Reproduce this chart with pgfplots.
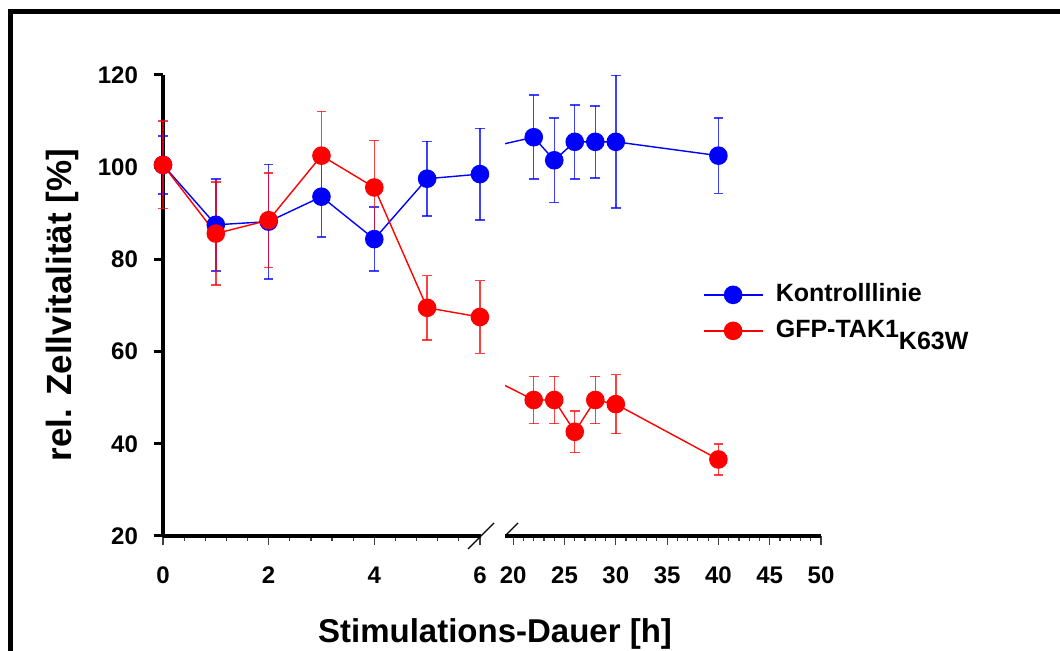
\documentclass[border=0pt]{standalone}
\usepackage{fontspec}
\setmainfont{Liberation Sans}
\usepackage{pgfplots}
\usepackage{pgfplotstable}
\pgfplotsset{compat=1.18}

\definecolor{kblue}{RGB}{0,0,255}
\definecolor{kred}{RGB}{255,0,0}

% time, value, error
\pgfplotstableread{
t   v      e
0   100.5  6.3
1   87.5   10.0
2   88.2   12.4
3   93.6   8.8
4   84.4   6.9
5   97.5   8.1
6   98.5   9.9
}\ctrlA
\pgfplotstableread{
t   v      e
0   100.5  9.5
1   85.6   11.2
2   88.5   10.3
3   102.5  9.6
4   95.6   10.2
5   69.5   7.0
6   67.5   7.9
}\takA
\pgfplotstableread{
t   v      e
22  106.5  9.1
24  101.5  9.2
26  105.5  8.0
28  105.5  7.8
30  105.5  14.4
40  102.5  8.2
}\ctrlB
\pgfplotstableread{
t   v      e
22  49.5   5.1
24  49.5   5.1
26  42.6   4.5
28  49.5   5.1
30  48.6   6.4
40  36.6   3.4
}\takB

\pgfplotsset{
  seg/.style={
    scale only axis, height=230.5pt, ymin=20, ymax=120,
    axis x line*=bottom,
    axis line style={-},
    x axis line style={line width=2pt},
    y axis line style={line width=1.6pt},
    tick align=outside,
    major tick length=4.5pt, minor tick length=2.5pt,
    minor x tick num=4,
    xtick style={line width=0.6pt, black!75},
    ytick style={line width=1.5pt, black},
    xticklabel style={yshift=-7.5pt},
    yticklabel style={xshift=-4.5pt},
    tick label style={font=\fontsize{12}{14}\selectfont\bfseries},
    /pgf/number format/assume math mode=true,
  },
  ser/.style={#1, line width=0.7pt, mark=*, mark size=4.3pt,
    mark options={solid, fill=#1, draw=#1},
    error bars/.cd, y dir=both, y explicit,
    error bar style={line width=0.7pt, #1, opacity=0.75},
    error mark options={rotate=90, mark size=2.4pt, line width=0.8pt, #1}},
}

\begin{document}
\begin{tikzpicture}
\path[use as bounding box] (0,0) rectangle (530pt,325.5pt);
\draw[line width=2.4pt, line join=miter] (5.4pt,0) -- (5.4pt,319.8pt) -- (530pt,319.8pt);

\begin{axis}[seg, at={(81.5pt,57.5pt)}, anchor=south west,
  width=159pt, xmin=0, xmax=6.02,
  axis y line*=left,
  xtick={0,2,4,6}, ytick={20,40,...,120},
  clip=false]
  \addplot+[ser=kblue] table[x=t, y=v, y error=e] {\ctrlA};
  \addplot+[ser=kred] table[x=t, y=v, y error=e] {\takA};
  \draw[line width=0.6pt] ([shift={(-6.5pt,-6.5pt)}]axis cs:6.02,20) -- ++(13pt,13pt);
\end{axis}

\begin{axis}[seg, at={(252.5pt,57.5pt)}, anchor=south west,
  width=158pt, xmin=19.2, xmax=50,
  axis y line=none,
  xtick={20,25,...,50},
  legend style={at={(axis cs:38.5,68.4)}, anchor=west, draw=none, fill=none,
    inner sep=0pt, row sep=5pt,
    nodes={inner sep=1pt, text height=9pt, text depth=2pt},
    /tikz/every odd column/.append style={column sep=5pt},
    font=\fontsize{12.5}{14}\selectfont\bfseries},
  legend cell align=left,
  legend image code/.code={
    \draw[#1] (0pt,0pt) -- (29.5pt,0pt);
    \draw[#1, only marks] plot coordinates {(14.5pt,0pt)};}]
  \addplot[kblue, line width=0.7pt, forget plot] coordinates {(6,98.5) (22,106.5)};
  \addplot[kred, line width=0.7pt, forget plot] coordinates {(6,67.5) (22,49.5)};
  \addplot+[ser=kblue] table[x=t, y=v, y error=e] {\ctrlB};
  \addlegendentry{Kontrolllinie}
  \addplot+[ser=kred] table[x=t, y=v, y error=e] {\takB};
  \addlegendentry{GFP-TAK1\raisebox{-6pt}{K63W}}
  \draw[line width=0.6pt] ([shift={(-6.5pt,-6.5pt)}]axis cs:19.2,20) -- ++(13pt,13pt);
\end{axis}

\node[rotate=90, font=\fontsize{17.5}{20}\selectfont\bfseries] at (31pt,173pt) {rel. Zellvitalität [\%]};
\node[anchor=base, font=\fontsize{16.5}{19}\selectfont\bfseries] at (247.5pt,4pt) {Stimulations-Dauer [h]};
\end{tikzpicture}
\end{document}
